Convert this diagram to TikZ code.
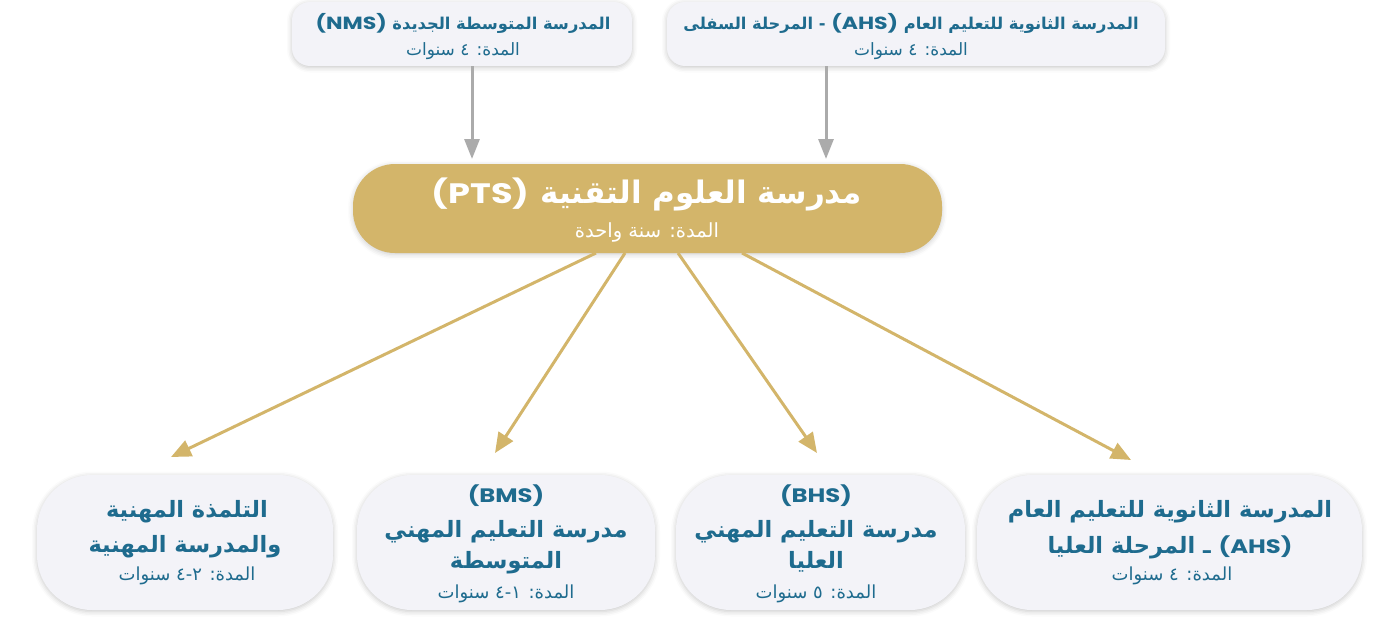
\documentclass[tikz,border=0pt]{standalone}
\usepackage{fontspec}
\usetikzlibrary{arrows.meta,shadows.blur}
\TeXXeTstate=1
\newfontfamily\arfont[Script=Arabic]{DejaVu Sans}
\newfontfamily\latfont{Poppins}[FakeStretch=1.25, Scale=1.08]
\newcommand{\ArLine}[1]{\beginR #1\endR}
\newcommand{\LatW}[1]{{\latfont\bfseries #1}}
\newcommand{\LatB}[1]{{\fontsize{18}{22}\selectfont\latfont\bfseries #1}}
\definecolor{gold}{HTML}{D3B56A}
\definecolor{boxfill}{HTML}{F3F3F8}
\definecolor{txtblue}{HTML}{1E6B8E}
\definecolor{arrgray}{HTML}{ABABAB}
\tikzset{
  box/.style={rectangle, fill=boxfill, inner sep=0pt,
    blur shadow={shadow xshift=0pt, shadow yshift=-1.5pt, shadow blur radius=5pt, shadow opacity=22}},
  topbox/.style={box, rounded corners=18pt, minimum height=64pt},
  botbox/.style={box, rounded corners=55pt, minimum height=135pt},
  ptsbox/.style={rectangle, fill=gold, rounded corners=42pt, minimum width=589pt, minimum height=89pt, inner sep=0pt,
    blur shadow={shadow xshift=0pt, shadow yshift=-1.5pt, shadow blur radius=5pt, shadow opacity=20}},
  lbl/.style={anchor=base, inner sep=0pt, text=txtblue, font=\arfont},
  toptitle/.style={lbl, font=\arfont\fontsize{16.3}{20}\selectfont\bfseries},
  topsub/.style={lbl, font=\arfont\fontsize{17}{20}\selectfont},
  bottitle/.style={lbl, font=\arfont\fontsize{22.5}{26}\selectfont\bfseries},
  botsub/.style={lbl, font=\arfont\fontsize{18}{21}\selectfont},
  goldarrow/.style={draw=gold, line width=3pt, -{Triangle[length=20pt,width=17pt]}},
  grayarrow/.style={draw=arrgray, line width=3pt, -{Triangle[length=20pt,width=15pt]}},
}
\begin{document}
\begin{tikzpicture}[x=1pt,y=-1pt]
\useasboundingbox (0,0) rectangle (1392,618);
% top boxes
\node[topbox, minimum width=340pt] (nms) at (462,34) {};
\node[topbox, minimum width=498pt] (ahsl) at (916,34) {};
\node[toptitle] (nmsT) at (463,30) {\ArLine{المدرسة المتوسطة الجديدة \LatW{(NMS)}}};
\node[topsub] (nmsS) at (463,56) {\ArLine{المدة: ٤ سنوات}};
\node[toptitle] (ahslT) at (911,30) {\ArLine{المدرسة الثانوية للتعليم العام \LatW{(AHS)} - المرحلة السفلى}};
\node[topsub] (ahslS) at (911,56) {\ArLine{المدة: ٤ سنوات}};
% PTS
\node[ptsbox] (pts) at (647.5,208.5) {};
\node[lbl, text=white, font=\arfont\fontsize{31}{36}\selectfont\bfseries] (ptsT) at (647,203) {\ArLine{مدرسة العلوم التقنية {\fontsize{26}{30}\selectfont\LatW{(PTS)}}}};
\node[lbl, text=white, font=\arfont\fontsize{19.5}{22}\selectfont] (ptsS) at (647,237) {\ArLine{المدة: سنة واحدة}};
% bottom boxes
\node[botbox, minimum width=296pt] (vet) at (185,542.5) {};
\node[botbox, minimum width=298pt] (bms) at (506,542.5) {};
\node[botbox, minimum width=289pt] (bhs) at (820.5,542.5) {};
\node[botbox, minimum width=385pt] (ahsu) at (1169.5,542.5) {};
\node[bottitle] (vetA) at (187,517) {\ArLine{التلمذة المهنية}};
\node[bottitle] (vetB) at (185,552) {\ArLine{والمدرسة المهنية}};
\node[botsub] (vetS) at (187,580) {\ArLine{المدة: ٢-٤ سنوات}};
\node[bottitle] (bmsA) at (506,502) {\ArLine{\LatB{(BMS)}}};
\node[bottitle] (bmsB) at (506,537) {\ArLine{مدرسة التعليم المهني}};
\node[bottitle] (bmsC) at (506,568) {\ArLine{المتوسطة}};
\node[botsub] (bmsS) at (506,598) {\ArLine{المدة: ١-٤ سنوات}};
\node[bottitle] (bhsA) at (816,502) {\ArLine{\LatB{(BHS)}}};
\node[bottitle] (bhsB) at (816,537) {\ArLine{مدرسة التعليم المهني}};
\node[bottitle] (bhsC) at (816,568) {\ArLine{العليا}};
\node[botsub] (bhsS) at (816,598) {\ArLine{المدة: ٥ سنوات}};
\node[bottitle] (ahsuA) at (1170,517) {\ArLine{المدرسة الثانوية للتعليم العام}};
\node[bottitle] (ahsuB) at (1170,553) {\ArLine{\LatB{(AHS)} ـ المرحلة العليا}};
\node[botsub] (ahsuS) at (1172,580) {\ArLine{المدة: ٤ سنوات}};
% arrows
\coordinate (g1) at (472,159);
\coordinate (g2) at (826,159);
\draw[grayarrow] (nms.south -| g1) -- (g1);
\draw[grayarrow] (ahsl.south -| g2) -- (g2);
\coordinate (s1) at (596,253);
\coordinate (s2) at (625,253);
\coordinate (s3) at (678,253);
\coordinate (s4) at (742,253);
\coordinate (e1) at (171,457);
\coordinate (e2) at (495,453);
\coordinate (e3) at (817,453);
\coordinate (e4) at (1131,460);
\draw[goldarrow] (s1) -- (e1);
\draw[goldarrow] (s2) -- (e2);
\draw[goldarrow] (s3) -- (e3);
\draw[goldarrow] (s4) -- (e4);
\end{tikzpicture}
\end{document}
